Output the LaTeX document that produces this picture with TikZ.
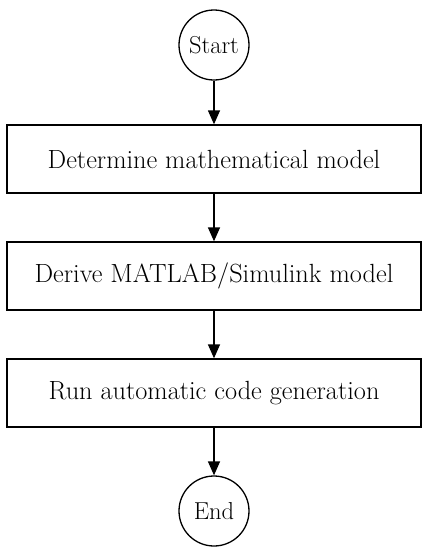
\documentclass[tikz,border=0pt]{standalone}
\usepackage{fontspec}
\usetikzlibrary{arrows.meta}
\begin{document}
\begin{tikzpicture}[x=1pt,y=1pt,
  every node/.style={font=\fontsize{26.3}{30}\selectfont},
  stepbox/.style={draw,line width=1.3pt,minimum width=414pt,minimum height=68pt,inner sep=0pt},
  term/.style={draw,circle,line width=1.3pt,minimum size=70pt,inner sep=0pt,font=\fontsize{24.5}{28}\selectfont},
  conn/.style={line width=1.3pt,-{Triangle[length=14pt,width=12pt]}}]
\useasboundingbox (0,0) rectangle (429,-550);
\node[term] (start) at (214,-45) {Start};
\node[stepbox] (b1) at (214,-159) {Determine mathematical model};
\node[stepbox] (b2) at (214,-276) {Derive MATLAB/Simulink model};
\node[stepbox] (b3) at (214,-393) {Run automatic code generation};
\node[term] (end) at (214,-511) {End};
\draw[conn] (start) -- (b1);
\draw[conn] (b1) -- (b2);
\draw[conn] (b2) -- (b3);
\draw[conn] (b3) -- (end);
\end{tikzpicture}
\end{document}
